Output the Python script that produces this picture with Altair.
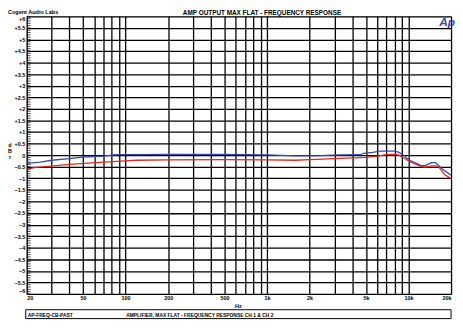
import altair as alt
import pandas as pd

# ---- data ----
blue_freq = [20, 25, 30, 40, 50, 70, 85, 100, 200, 500, 1000, 1600, 2400, 3200, 4600, 4800,
             5600, 6200, 8000, 8600, 9300, 10000, 10900, 12300, 13200, 13900, 14600, 15500,
             16300, 17700, 19600, 20000]
blue_db = [-0.36, -0.30, -0.22, -0.15, -0.08, -0.04, 0.02, 0.02, 0.03, 0.03, 0.01, -0.03, -0.02,
           0.01, 0.02, 0.08, 0.12, 0.17, 0.17, 0.12, -0.01, -0.20, -0.30, -0.45, -0.45, -0.38,
           -0.32, -0.32, -0.45, -0.64, -0.83, -0.87]
red_freq = [20, 23, 30, 40, 58, 93, 120, 200, 500, 1000, 1600, 2000, 3000, 5000, 6000, 7000,
            8000, 8600, 9300, 10000, 10900, 12000, 13000, 13900, 14600, 15500, 16300, 17000,
            18000, 19600, 20000]
red_db = [-0.61, -0.53, -0.47, -0.40, -0.33, -0.26, -0.22, -0.20, -0.19, -0.20, -0.22, -0.19,
          -0.15, -0.10, -0.04, 0.02, 0.03, 0.00, -0.12, -0.25, -0.36, -0.46, -0.52, -0.50,
          -0.46, -0.46, -0.50, -0.64, -0.84, -0.98, -1.00]

x_grid = [20, 30, 40, 50, 60, 70, 80, 90, 100, 200, 300, 400, 500, 600, 700, 800, 900,
          1000, 2000, 3000, 4000, 5000, 6000, 7000, 8000, 9000, 10000, 20000]
x_label_vals = [20, 50, 100, 200, 500, 1000, 2000, 5000, 10000, 20000]
x_label_txt = ["20", "50", "100", "200", "500", "1k", "2k", "5k", "10k", "20k"]
y_ticks = [round(-6 + 0.5 * i, 1) for i in range(25)]
y_minor = [round(-6 + 0.1 * i, 1) for i in range(121)]

title_txt = "AMP OUTPUT MAX FLAT - FREQUENCY RESPONSE"
company_txt = "Cogent Audio Labs"
box_left_txt = "AP-FREQ-CB-PAST"
box_mid_txt = "AMPLIFIER, MAX FLAT - FREQUENCY RESPONSE   CH 1 & CH 2"

W, H = 431, 282
FONT = "Liberation Sans"

df = pd.concat([
    pd.DataFrame({"f": blue_freq, "db": blue_db, "ch": "blue"}),
    pd.DataFrame({"f": red_freq, "db": red_db, "ch": "red"}),
])

label_map = "{" + ",".join(f"'{v}':'{t}'" for v, t in zip(x_label_vals, x_label_txt)) + "}"
x_label_expr = f"({label_map})[datum.value + ''] || ''"

xs = alt.Scale(type="log", domain=[20, 20000], nice=False)
ys = alt.Scale(domain=[-6, 6], nice=False, zero=False)

x_axis = alt.Axis(values=x_grid, grid=True, gridColor="black", gridWidth=1.3, gridOpacity=1,
                  ticks=False, domain=False, labelExpr=x_label_expr, labelFlush=True,
                  labelOverlap=False, labelFont=FONT, labelFontWeight="bold", labelFontSize=5.5,
                  labelColor="black", labelPadding=2, title=None)
y_axis = alt.Axis(values=y_ticks, grid=True, gridColor="black", gridWidth=1.3, gridOpacity=1,
                  ticks=False, domain=False,
                  labelExpr="(datum.value > 0 ? '+' : '') + format(datum.value, '~g')",
                  labelFont=FONT, labelFontWeight="bold", labelFontSize=5.5, labelColor="black",
                  labelPadding=2, labelOverlap=False, labelFlush=True, title=None)

lines = alt.Chart(df).mark_line(strokeWidth=1.3).encode(
    x=alt.X("f:Q", scale=xs, axis=x_axis),
    y=alt.Y("db:Q", scale=ys, axis=y_axis),
    color=alt.Color("ch:N", scale=alt.Scale(domain=["blue", "red"], range=["#3a4bb0", "#e3281c"]),
                    legend=None),
    order=alt.Order("f:Q"),
)

minor = alt.Chart(pd.DataFrame({"v": y_minor})).mark_rule(color="black", strokeWidth=0.7).encode(
    y=alt.Y("v:Q", scale=ys, axis=y_axis), x=alt.value(0), x2=alt.value(4))


def txt(t, x, y, size=5.5, align="left", color="black", italic=False, baseline="alphabetic"):
    return alt.Chart(pd.DataFrame({"t": [t]})).mark_text(
        font=FONT, fontWeight="bold", fontSize=size, align=align, baseline=baseline, color=color,
        fontStyle="italic" if italic else "normal").encode(
        x=alt.value(x), y=alt.value(y), text="t:N")


box = alt.Chart(pd.DataFrame({"a": [0]})).mark_rect(fill="white", stroke="black", strokeWidth=1).encode(
    x=alt.value(-1), x2=alt.value(W), y=alt.value(298), y2=alt.value(307))

ylab = alt.Chart(pd.DataFrame({"t": ["d", "B", "r"], "yy": [0.42, 0.17, -0.08]})).mark_text(
    font=FONT, fontWeight="bold", fontSize=5.5, color="black").encode(
    x=alt.value(-17), y=alt.Y("yy:Q", scale=ys, axis=y_axis), text="t:N")

chart = alt.layer(
    lines, minor, box,
    txt(company_txt, -19, -6.5, size=5.6, baseline="top"),
    txt(title_txt, 239, -6.5, size=6.5, align="center", baseline="top"),
    txt("Ap", 427, 10, size=12, align="center", color="#3a4bb0", italic=True),
    txt("Hz", 215, 296, size=5.5, align="center"),
    txt(box_left_txt, 1, 305, size=5),
    txt(box_mid_txt, 101, 305, size=5),
    ylab,
).properties(
    width=W, height=H,
    padding={"left": 19, "top": 6, "right": 4, "bottom": 26},
    autosize=alt.AutoSizeParams(type="none"),
).configure_view(stroke="black", strokeWidth=1.5).configure(background="white")

chart.save("out.html", embed_options={"renderer": "svg", "actions": False})
